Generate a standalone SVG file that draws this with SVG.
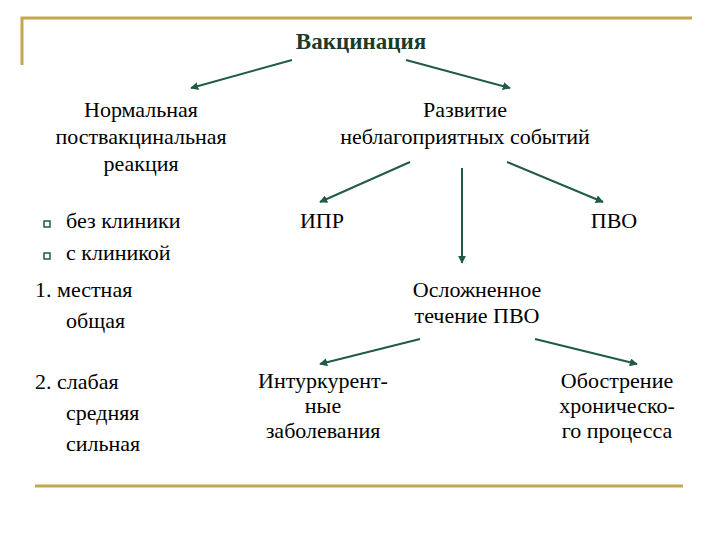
<svg xmlns="http://www.w3.org/2000/svg" width="720" height="540" viewBox="0 0 720 540">
<defs>
<style>
text{font-family:'Liberation Serif','Times New Roman','DejaVu Serif',serif}
.t{font-size:22px;fill:#000}
.c{text-anchor:middle}
.title{font-size:23px;font-weight:bold;fill:#1B3B28;text-anchor:middle}
.rule{stroke:#C2A94E;stroke-width:3;fill:none}
.a{stroke:#1F5C40;stroke-width:2;fill:none;marker-end:url(#ah)}
.bul{fill:#fff;stroke:#1F5C40;stroke-width:1.5}
</style>
<marker id="ah" viewBox="0 0 10 10" refX="9" refY="5" markerWidth="4" markerHeight="4" orient="auto" markerUnits="strokeWidth">
<path d="M0,0 L10,5 L0,10 z" fill="#1F5C40"/>
</marker>
</defs>
<rect width="720" height="540" fill="#fff"/>
<g id="frame">
<path class="rule" d="M22,65 V18 H692"/>
<line class="rule" x1="35" y1="486" x2="683" y2="486"/>
</g>
<g id="connectors">
<line class="a" x1="292" y1="60" x2="191" y2="88"/>
<line class="a" x1="406" y1="60" x2="510" y2="88"/>
<line class="a" x1="410" y1="162" x2="320" y2="202"/>
<line class="a" x1="462" y1="168" x2="462" y2="263"/>
<line class="a" x1="507" y1="162" x2="603" y2="202"/>
<line class="a" x1="420" y1="339" x2="320" y2="364"/>
<line class="a" x1="535" y1="339" x2="637" y2="364"/>
</g>
<g id="vaccination"><text class="title" x="361" y="49">Вакцинация</text></g>
<g id="normal">
<text class="t c" x="141" y="117">Нормальная</text>
<text class="t c" x="141" y="144">поствакцинальная</text>
<text class="t c" x="141" y="171">реакция</text>
</g>
<g id="bullets">
<rect class="bul" x="44" y="221" width="6" height="6"/>
<text class="t" x="66" y="228">без клиники</text>
<rect class="bul" x="44" y="253" width="6" height="6"/>
<text class="t" x="66" y="260">с клиникой</text>
</g>
<g id="adverse">
<text class="t c" x="465" y="117">Развитие</text>
<text class="t c" x="465" y="144">неблагоприятных событий</text>
</g>
<g id="ipr"><text class="t c" x="322" y="228">ИПР</text></g>
<g id="pvo"><text class="t c" x="614" y="228">ПВО</text></g>
<g id="complicated">
<text class="t c" x="477" y="297">Осложненное</text>
<text class="t c" x="477" y="323">течение ПВО</text>
</g>
<g id="list1">
<text class="t" x="35" y="297">1. местная</text>
<text class="t" x="66" y="328">общая</text>
</g>
<g id="list2">
<text class="t" x="35" y="389">2. слабая</text>
<text class="t" x="66" y="420">средняя</text>
<text class="t" x="66" y="451">сильная</text>
</g>
<g id="intercurrent">
<text class="t c" x="323" y="388">Интуркурент-</text>
<text class="t c" x="323" y="413">ные</text>
<text class="t c" x="323" y="438">заболевания</text>
</g>
<g id="exacerbation">
<text class="t c" x="617" y="388">Обострение</text>
<text class="t c" x="617" y="413">хроническо-</text>
<text class="t c" x="617" y="438">го процесса</text>
</g>
</svg>
